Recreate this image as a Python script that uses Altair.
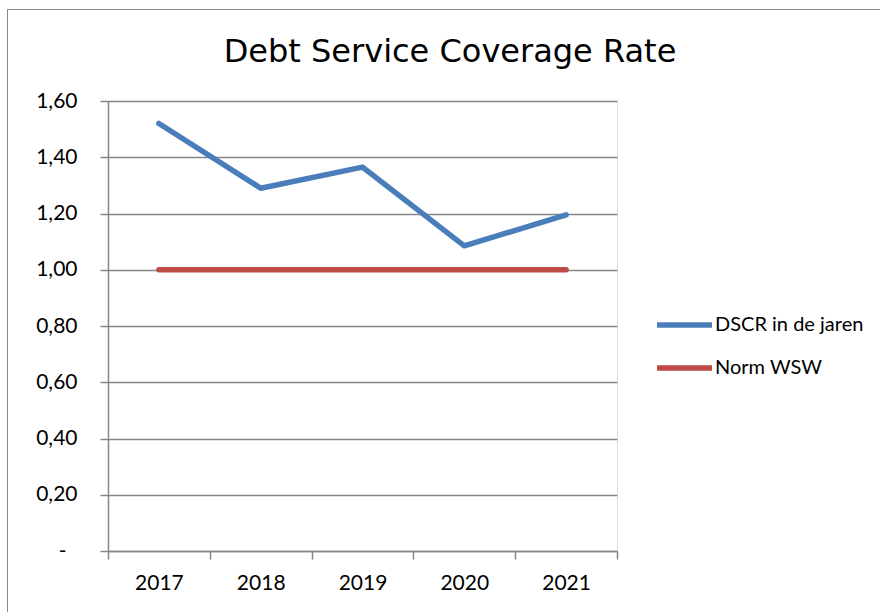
import altair as alt
import pandas as pd

years = ["2017", "2018", "2019", "2020", "2021"]
dscr = [1.52, 1.29, 1.365, 1.085, 1.195]
norm = [1.00, 1.00, 1.00, 1.00, 1.00]
series_names = ["DSCR in de jaren", "Norm WSW"]
series_colors = ["#4A7EBB", "#BE4B48"]
y_ticks = [0, 0.2, 0.4, 0.6, 0.8, 1.0, 1.2, 1.4, 1.6]
title_text = "Debt Service Coverage Rate"

rows = []
for y, v in zip(years, dscr):
    rows.append({"jaar": y, "waarde": v, "reeks": series_names[0]})
for y, v in zip(years, norm):
    rows.append({"jaar": y, "waarde": v, "reeks": series_names[1]})
df = pd.DataFrame(rows)

label_font = "Lato"
grid_color = "#868686"

lines = alt.Chart(df).mark_line(strokeWidth=5.5, strokeCap="round", strokeJoin="round").encode(
    x=alt.X("jaar:O", sort=years, bandPosition=0.5,
            scale=alt.Scale(type="band", paddingInner=0, paddingOuter=0),
            axis=alt.Axis(title=None, labelAngle=0, tickBand="extent", tickSize=8,
                          labelPadding=13, labelFont=label_font, labelFontSize=21,
                          labelColor="black", domainColor=grid_color, tickColor=grid_color,
                          domainWidth=1.5, tickWidth=1.5, grid=False)),
    y=alt.Y("waarde:Q", scale=alt.Scale(domain=[0, 1.6], nice=False, zero=True),
            axis=alt.Axis(title=None, values=y_ticks, tickSize=8,
                          labelPadding={"condition": {"test": "datum.value == 0", "value": 34}, "value": 23},
                          labelExpr="datum.value == 0 ? '-' : replace(format(datum.value, '.2f'), '.', ',')",
                          labelFont=label_font, labelFontSize=21, labelColor="black",
                          domainColor=grid_color, tickColor=grid_color, gridColor=grid_color,
                          domainWidth=1.5, tickWidth=1.5, gridWidth=1.5, grid=True)),
    color=alt.Color("reeks:N", sort=series_names,
                    scale=alt.Scale(domain=series_names, range=series_colors),
                    legend=alt.Legend(title=None, orient="none", legendX=546, legendY=214,
                                      symbolType="stroke", symbolSize=3025, symbolStrokeWidth=5.5,
                                      clipHeight=20, rowPadding=23, labelOffset=0,
                                      labelFont=label_font, labelFontSize=20, labelColor="black")),
)

border = alt.Chart(pd.DataFrame({"b": [0]})).mark_rect(fill=None, stroke="#888888", strokeWidth=1).encode(
    x=alt.value(-100.5), y=alt.value(-91.5), x2=alt.value(900), y2=alt.value(700)
)

title = alt.Chart(pd.DataFrame({"t": [title_text]})).mark_text(
    font="DejaVu Sans", fontSize=32, color="black", align="center", baseline="alphabetic"
).encode(text="t:N", x=alt.value(342), y=alt.value(-39))

chart = alt.layer(border, lines, title).properties(
    width=509, height=450,
    padding={"left": 108, "top": 101, "right": 263, "bottom": 61},
    autosize=alt.AutoSizeParams(type="none"),
).configure_view(stroke=None).configure(background="white")

chart.save("out.html", embed_options={"renderer": "svg", "actions": False})
